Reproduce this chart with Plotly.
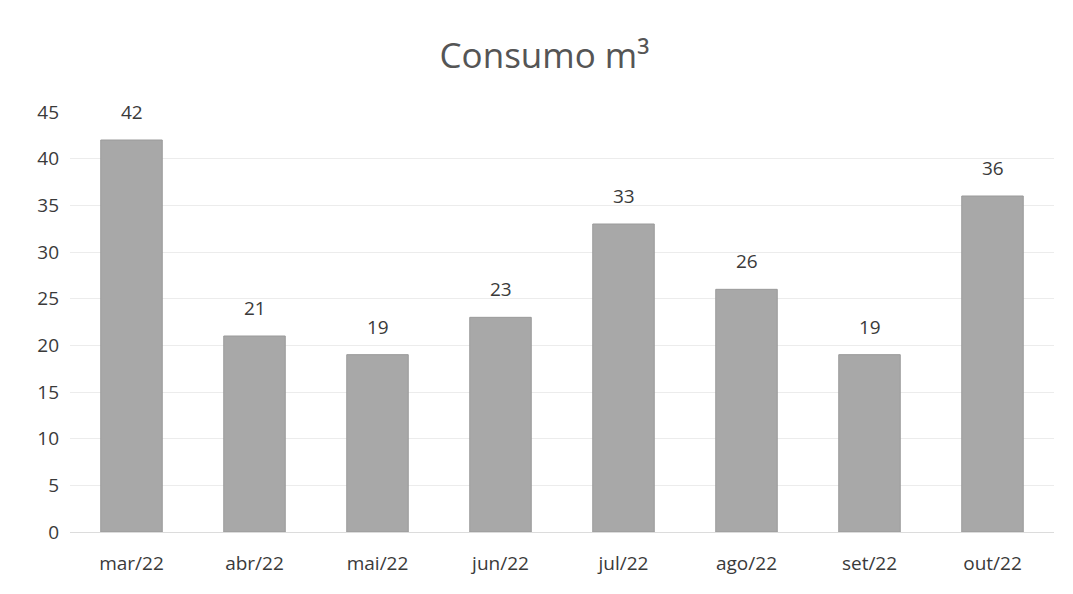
import plotly.graph_objects as go

categories = ["mar/22", "abr/22", "mai/22", "jun/22", "jul/22", "ago/22", "set/22", "out/22"]
values = [42, 21, 19, 23, 33, 26, 19, 36]
y_ticks = [0, 5, 10, 15, 20, 25, 30, 35, 40, 45]

fig = go.Figure(go.Bar(
    x=categories, y=values,
    marker=dict(color="#a8a8a8", line=dict(color="#9a9a9a", width=1)),
    width=0.5,
))

for c, v in zip(categories, values):
    fig.add_annotation(x=c, y=v, text=str(v), showarrow=False, yanchor="bottom", yshift=13,
                       font=dict(size=19, color="#3a3a3a", family="Open Sans"))

fig.update_layout(
    width=1073, height=594,
    paper_bgcolor="#ffffff", plot_bgcolor="#ffffff",
    margin=dict(l=62, r=27, t=104, b=70),
    title=dict(text="Consumo m³", x=0.5, xanchor="center", y=0.92, yanchor="middle",
               font=dict(size=35, color="#555555", family="Open Sans", weight=500)),
    font=dict(family="Open Sans", color="#3a3a3a", size=19),
    showlegend=False,
)
fig.update_yaxes(range=[0, 45], tickvals=y_ticks, showgrid=True, gridcolor="#ececec",
                 zeroline=False, ticks="", tickfont=dict(size=19, color="#3a3a3a"), ticklabelstandoff=10)
fig.update_xaxes(showline=True, linecolor="#dcdcdc", ticks="", tickfont=dict(size=19, color="#3a3a3a"),
                 ticklabelstandoff=14)

fig.write_html("out.html")
